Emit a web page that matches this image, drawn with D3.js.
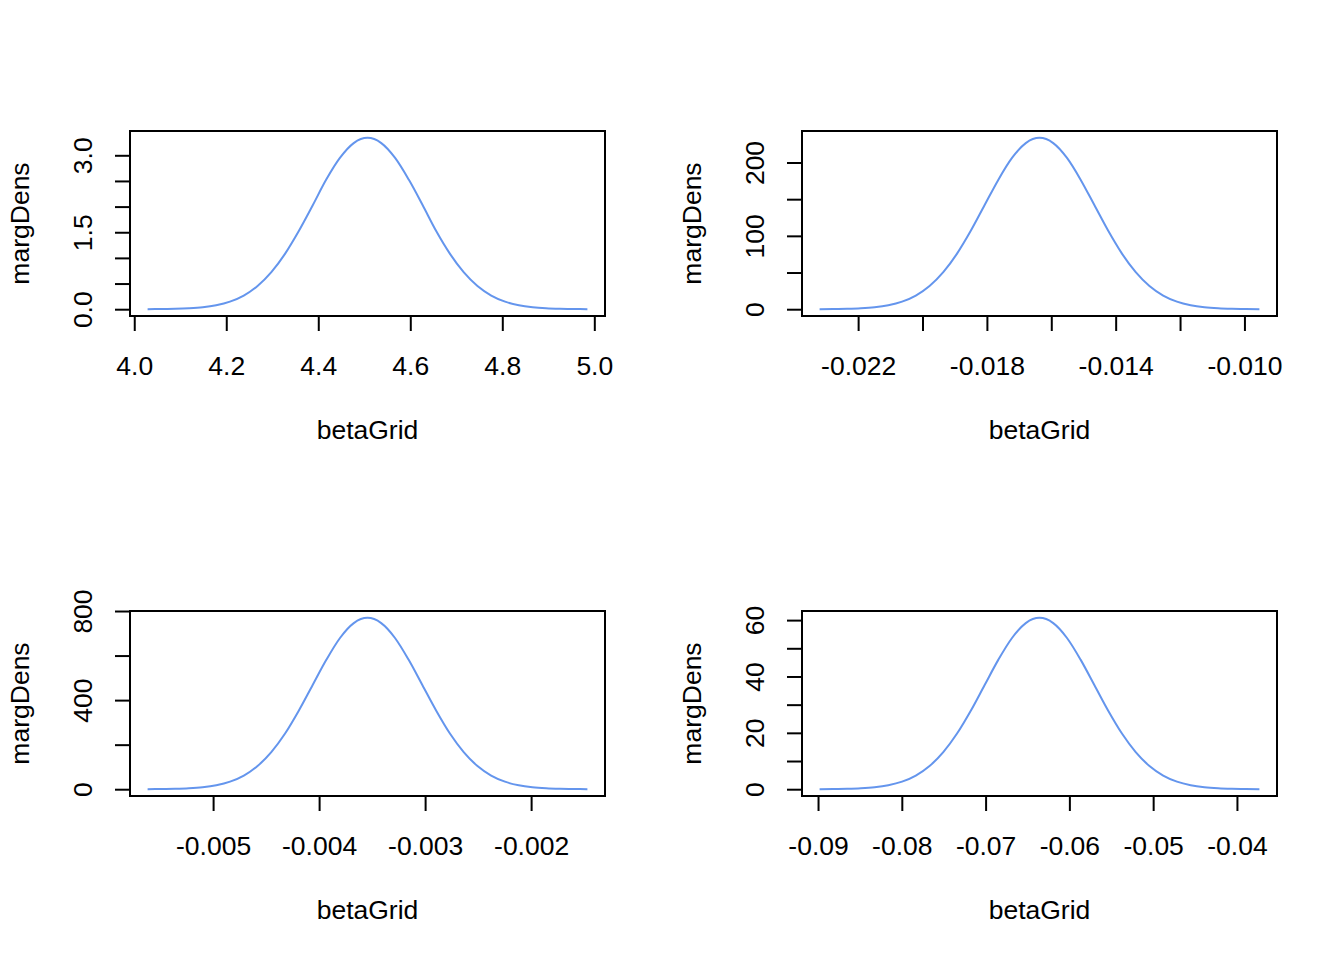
<!DOCTYPE html>
<html>
<head>
<meta charset="utf-8">
<script src="https://cdn.jsdelivr.net/npm/d3@7"></script>
<style>
  body { margin: 0; background: #fff; }
  svg { display: block; }
  text { font-family: "Liberation Sans", Arial, Helvetica, sans-serif; font-size: 26.5px; fill: #000; }
</style>
</head>
<body>
<svg id="chart" width="1344" height="960"></svg>
<script>
// panel 1 (top left)
const beta1 = [4.029, 4.059, 4.089, 4.119, 4.149, 4.178, 4.208, 4.238, 4.268, 4.298, 4.328,
  4.358, 4.388, 4.417, 4.447, 4.477, 4.507, 4.537, 4.567, 4.597, 4.627, 4.656, 4.686,
  4.716, 4.746, 4.776, 4.806, 4.836, 4.866, 4.895, 4.925, 4.955, 4.985]
const dens1 = [0.001, 0.003, 0.007, 0.017, 0.037, 0.076, 0.147, 0.266, 0.452, 0.722, 1.084,
  1.529, 2.026, 2.521, 2.948, 3.237, 3.34, 3.237, 2.948, 2.521, 2.026, 1.529, 1.084,
  0.722, 0.452, 0.266, 0.147, 0.076, 0.037, 0.017, 0.007, 0.003, 0.001]
const xTicks1 = [4.0, 4.2, 4.4, 4.6, 4.8, 5.0]
const xLabels1 = ["4.0", "4.2", "4.4", "4.6", "4.8", "5.0"]
const yTicks1 = [0, 0.5, 1, 1.5, 2, 2.5, 3]
const yLabels1 = ["0.0", "", "", "1.5", "", "", "3.0"]

// panel 2 (top right)
const beta2 = [-0.023197, -0.02277, -0.022343, -0.021916, -0.021489, -0.021062, -0.020635,
  -0.020208, -0.019782, -0.019355, -0.018928, -0.018501, -0.018074, -0.017647, -0.01722,
  -0.016793, -0.016366, -0.015939, -0.015512, -0.015085, -0.014658, -0.014231, -0.013804,
  -0.013377, -0.012951, -0.012524, -0.012097, -0.01167, -0.011243, -0.010816, -0.010389,
  -0.009962, -0.009535]
const dens2 = [0.08, 0.21, 0.51, 1.19, 2.59, 5.33, 10.3, 18.6, 31.6, 50.5, 75.8, 106.9,
  141.7, 176.3, 206.2, 226.4, 233.6, 226.4, 206.2, 176.3, 141.7, 106.9, 75.8, 50.5, 31.6,
  18.6, 10.3, 5.33, 2.59, 1.19, 0.51, 0.21, 0.08]
const xTicks2 = [-0.022, -0.020, -0.018, -0.016, -0.014, -0.012, -0.010]
const xLabels2 = ["-0.022", "", "-0.018", "", "-0.014", "", "-0.010"]
const yTicks2 = [0, 50, 100, 150, 200]
const yLabels2 = ["0", "", "100", "", "200"]

// panel 3 (bottom left)
const beta3 = [-0.005618, -0.005488, -0.005359, -0.005229, -0.005099, -0.00497, -0.00484,
  -0.00471, -0.004581, -0.004451, -0.004321, -0.004192, -0.004062, -0.003932, -0.003803,
  -0.003673, -0.003544, -0.003414, -0.003284, -0.003155, -0.003025, -0.002895, -0.002766,
  -0.002636, -0.002506, -0.002377, -0.002247, -0.002117, -0.001988, -0.001858, -0.001728,
  -0.001599, -0.001469]
const dens3 = [0.26, 0.68, 1.68, 3.92, 8.54, 17.5, 33.8, 61.2, 104.1, 166.4, 249.8, 352.2,
  466.6, 580.7, 678.9, 745.6, 769.3, 745.6, 678.9, 580.7, 466.6, 352.2, 249.8, 166.4,
  104.1, 61.2, 33.8, 17.5, 8.54, 3.92, 1.68, 0.68, 0.26]
const xTicks3 = [-0.005, -0.004, -0.003, -0.002]
const xLabels3 = ["-0.005", "-0.004", "-0.003", "-0.002"]
const yTicks3 = [0, 200, 400, 600, 800]
const yLabels3 = ["0", "", "400", "", "800"]

// panel 4 (bottom right)
const beta4 = [-0.089814, -0.088174, -0.086533, -0.084893, -0.083252, -0.081612, -0.079971,
  -0.078331, -0.07669, -0.07505, -0.073409, -0.071769, -0.070128, -0.068488, -0.066847,
  -0.065207, -0.063566, -0.061926, -0.060285, -0.058645, -0.057004, -0.055364, -0.053723,
  -0.052083, -0.050442, -0.048802, -0.047161, -0.045521, -0.04388, -0.04224, -0.040599,
  -0.038959, -0.037318]
const dens4 = [0.02, 0.054, 0.133, 0.31, 0.675, 1.39, 2.67, 4.84, 8.23, 13.15, 19.74, 27.83,
  36.88, 45.89, 53.66, 58.93, 60.8, 58.93, 53.66, 45.89, 36.88, 27.83, 19.74, 13.15, 8.23,
  4.84, 2.67, 1.39, 0.675, 0.31, 0.133, 0.054, 0.02]
const xTicks4 = [-0.09, -0.08, -0.07, -0.06, -0.05, -0.04]
const xLabels4 = ["-0.09", "-0.08", "-0.07", "-0.06", "-0.05", "-0.04"]
const yTicks4 = [0, 10, 20, 30, 40, 50, 60]
const yLabels4 = ["0", "", "20", "", "40", "", "60"]

const xTitle = "betaGrid"
const yTitle = "margDens"

const panels = [
  { x: beta1, y: dens1, xt: xTicks1, xl: xLabels1, yt: yTicks1, yl: yLabels1, ox: 0, oy: 0 },
  { x: beta2, y: dens2, xt: xTicks2, xl: xLabels2, yt: yTicks2, yl: yLabels2, ox: 672, oy: 0 },
  { x: beta3, y: dens3, xt: xTicks3, xl: xLabels3, yt: yTicks3, yl: yLabels3, ox: 0, oy: 480 },
  { x: beta4, y: dens4, xt: xTicks4, xl: xLabels4, yt: yTicks4, yl: yLabels4, ox: 672, oy: 480 }
]

// plot box inside each 672x480 cell (like R's default margins)
const boxL = 130, boxR = 605, boxT = 131, boxB = 316
const tick = 15
const font = '"Liberation Sans", Arial, sans-serif'
const fontSize = '26.5px'

const svg = d3.select('#chart')

// R pads the data range by 4% on each side
function padded(ext) {
  const d = (ext[1] - ext[0]) * 0.04
  return [ext[0] - d, ext[1] + d]
}

panels.forEach(p => {
  const g = svg.append('g').attr('transform', `translate(${p.ox},${p.oy})`)

  const x = d3.scaleLinear().domain(padded(d3.extent(p.x))).range([boxL, boxR])
  const y = d3.scaleLinear().domain(padded(d3.extent(p.y))).range([boxB, boxT])

  // x axis
  const xa = g.append('g')
    .attr('transform', `translate(0,${boxB})`)
    .call(d3.axisBottom(x).tickValues(p.xt).tickSize(tick)
      .tickFormat((d, i) => p.xl[i]))
  xa.select('.domain').remove()
  xa.selectAll('line').attr('stroke', '#000').attr('stroke-width', 2)
  xa.selectAll('text')
    .attr('y', 59).attr('dy', null)
    .attr('fill', '#000')
    .style('font-size', fontSize)
    .style('font-family', font)
  xa.append('line')
    .attr('x1', x(p.xt[0])).attr('x2', x(p.xt[p.xt.length - 1]))
    .attr('stroke', '#000').attr('stroke-width', 2)

  // y axis
  const ya = g.append('g')
    .attr('transform', `translate(${boxL},0)`)
    .call(d3.axisLeft(y).tickValues(p.yt).tickSize(tick)
      .tickFormat((d, i) => p.yl[i]))
  ya.select('.domain').remove()
  ya.selectAll('line').attr('stroke', '#000').attr('stroke-width', 2)
  ya.selectAll('text')
    .attr('x', null).attr('dy', null)
    .attr('transform', 'translate(-38,0) rotate(-90)')
    .attr('text-anchor', 'middle')
    .attr('fill', '#000')
    .style('font-size', fontSize)
    .style('font-family', font)
  ya.append('line')
    .attr('y1', y(p.yt[0])).attr('y2', y(p.yt[p.yt.length - 1]))
    .attr('stroke', '#000').attr('stroke-width', 2)

  // box
  g.append('rect')
    .attr('x', boxL).attr('y', boxT)
    .attr('width', boxR - boxL).attr('height', boxB - boxT)
    .attr('fill', 'none').attr('stroke', '#000').attr('stroke-width', 2)

  // density curve
  const line = d3.line()
    .x((d, i) => x(p.x[i]))
    .y(d => y(d))
    .curve(d3.curveMonotoneX)
  g.append('path')
    .datum(p.y)
    .attr('d', line)
    .attr('fill', 'none')
    .attr('stroke', '#6495ED')
    .attr('stroke-width', 2)

  // axis titles
  g.append('text')
    .attr('x', (boxL + boxR) / 2).attr('y', boxB + 123)
    .attr('text-anchor', 'middle')
    .text(xTitle)
  g.append('text')
    .attr('transform', `translate(${boxL - 101},${(boxT + boxB) / 2}) rotate(-90)`)
    .attr('text-anchor', 'middle')
    .text(yTitle)
})
</script>
</body>
</html>
